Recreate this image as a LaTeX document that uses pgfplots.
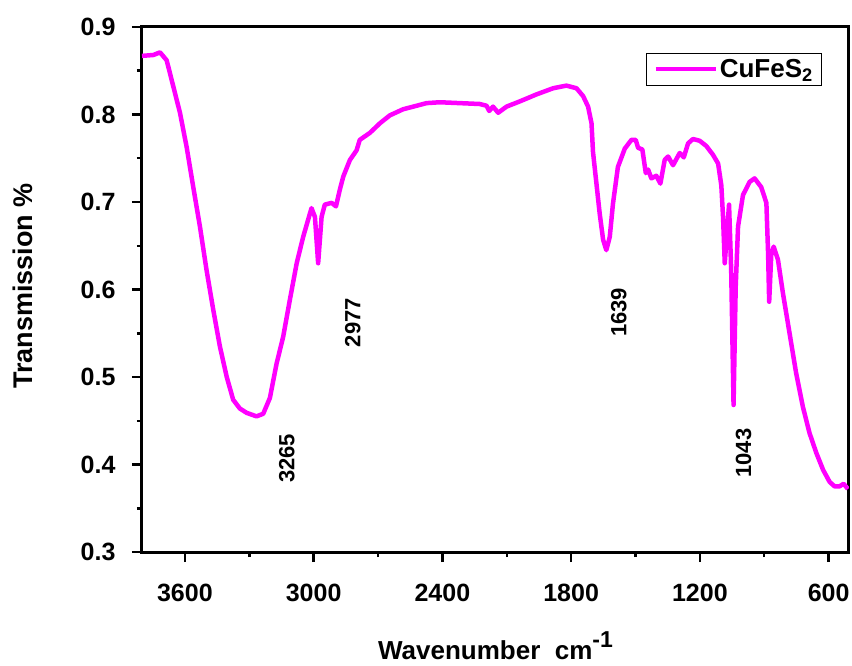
\documentclass[border=0pt]{standalone}
\usepackage{fontspec}
\setmainfont{Liberation Sans}
\usepackage{pgfplots}
\pgfplotsset{compat=1.18}
\definecolor{ftir}{HTML}{FF00FF}

\begin{document}
\begin{tikzpicture}
\useasboundingbox (-142pt,-113pt) rectangle (710pt,552pt);
\begin{axis}[
  scale only axis, width=707pt, height=525pt,
  x dir=reverse, xmin=505, xmax=3800, ymin=0.3, ymax=0.9,
  xtick={600,1200,1800,2400,3000,3600},
  minor xtick={900,1500,2100,2700,3300},
  ytick={0.3,0.4,0.5,0.6,0.7,0.8,0.9},
  minor ytick={0.35,0.45,0.55,0.65,0.75,0.85},
  tick align=outside, xtick pos=bottom, ytick pos=left,
  major tick length=10pt, minor tick length=5pt,
  every tick/.style={black, line width=2.5pt},
  axis line style={line width=3pt},
  /pgf/number format/assume math mode=true,
  yticklabel style={/pgf/number format/fixed, /pgf/number format/fixed zerofill,
    /pgf/number format/precision=1, xshift=-13pt},
  xticklabel style={/pgf/number format/1000 sep={}, yshift=-19pt},
  ticklabel style={font=\fontsize{25}{25}\selectfont\bfseries},
  ylabel={Transmission \%},
  ylabel style={font=\fontsize{27}{27}\selectfont\bfseries, at={(axis description cs:-0.168,0.507)}, anchor=center, rotate=0},
  xlabel={Wavenumber\ \ cm\raisebox{12pt}{\fontsize{23}{23}\selectfont -1}},
  xlabel style={font=\fontsize{26}{26}\selectfont\bfseries, at={(axis description cs:0.5,-0.204)}, anchor=base},
  legend style={at={(0.962,0.950)}, anchor=north east, draw=black, line width=0.8pt,
    font=\fontsize{26}{26}\selectfont\bfseries, inner xsep=7pt, inner ysep=4pt,
    legend cell align=left},
  legend image code/.code={\draw[#1, line width=4pt] (0pt,0pt) -- (60pt,0pt);},
]
\addplot[ftir, line width=4.5pt, line join=round] coordinates {
(3800,0.867)(3747,0.868)(3716,0.871)(3685,0.862)(3654,0.832)(3623,0.802)
(3592,0.763)(3561,0.717)(3530,0.672)(3499,0.622)(3468,0.577)(3437,0.535)
(3405,0.500)(3375,0.474)(3344,0.464)(3312,0.459)(3266,0.455)(3235,0.458)
(3204,0.476)(3173,0.515)(3142,0.546)(3111,0.588)(3079,0.630)(3049,0.660)
(3010,0.693)(2994,0.683)(2979,0.630)(2963,0.683)(2948,0.697)(2916,0.699)
(2896,0.695)(2878,0.714)(2862,0.729)(2831,0.748)(2800,0.759)(2785,0.771)
(2738,0.779)(2691,0.790)(2645,0.799)(2583,0.806)(2520,0.810)(2474,0.813)
(2412,0.814)(2319,0.813)(2226,0.812)(2194,0.810)(2182,0.804)(2164,0.809)
(2140,0.802)(2101,0.809)(2039,0.815)(1961,0.823)(1884,0.830)(1822,0.833)
(1775,0.830)(1744,0.821)(1721,0.809)(1705,0.790)(1698,0.757)(1682,0.721)
(1667,0.687)(1651,0.657)(1636,0.645)(1620,0.660)(1605,0.698)(1582,0.740)
(1550,0.761)(1519,0.771)(1499,0.771)(1488,0.762)(1468,0.760)(1452,0.733)
(1441,0.737)(1426,0.727)(1403,0.730)(1384,0.721)(1364,0.748)(1348,0.752)
(1325,0.742)(1294,0.756)(1275,0.751)(1255,0.767)(1232,0.772)(1201,0.770)
(1170,0.764)(1139,0.754)(1115,0.744)(1100,0.719)(1092,0.683)(1084,0.630)
(1064,0.697)(1054,0.622)(1043,0.468)(1033,0.603)(1022,0.672)(999,0.708)
(968,0.723)(945,0.727)(914,0.717)(890,0.699)(882,0.641)(877,0.586)
(867,0.641)(856,0.649)(836,0.634)(813,0.596)(782,0.550)(751,0.504)
(720,0.466)(689,0.436)(657,0.413)(626,0.394)(595,0.380)(572,0.375)
(549,0.375)(530,0.378)(510,0.372)
};
\addlegendentry{CuFeS\textsubscript{2}}
\node[rotate=90, font=\fontsize{22}{22}\selectfont\bfseries] at (axis cs:3125,0.407) {3265};
\node[rotate=90, font=\fontsize{22}{22}\selectfont\bfseries] at (axis cs:2817,0.562) {2977};
\node[rotate=90, font=\fontsize{22}{22}\selectfont\bfseries] at (axis cs:1578,0.574) {1639};
\node[rotate=90, font=\fontsize{22}{22}\selectfont\bfseries] at (axis cs:996,0.413) {1043};
\end{axis}
\end{tikzpicture}
\end{document}
